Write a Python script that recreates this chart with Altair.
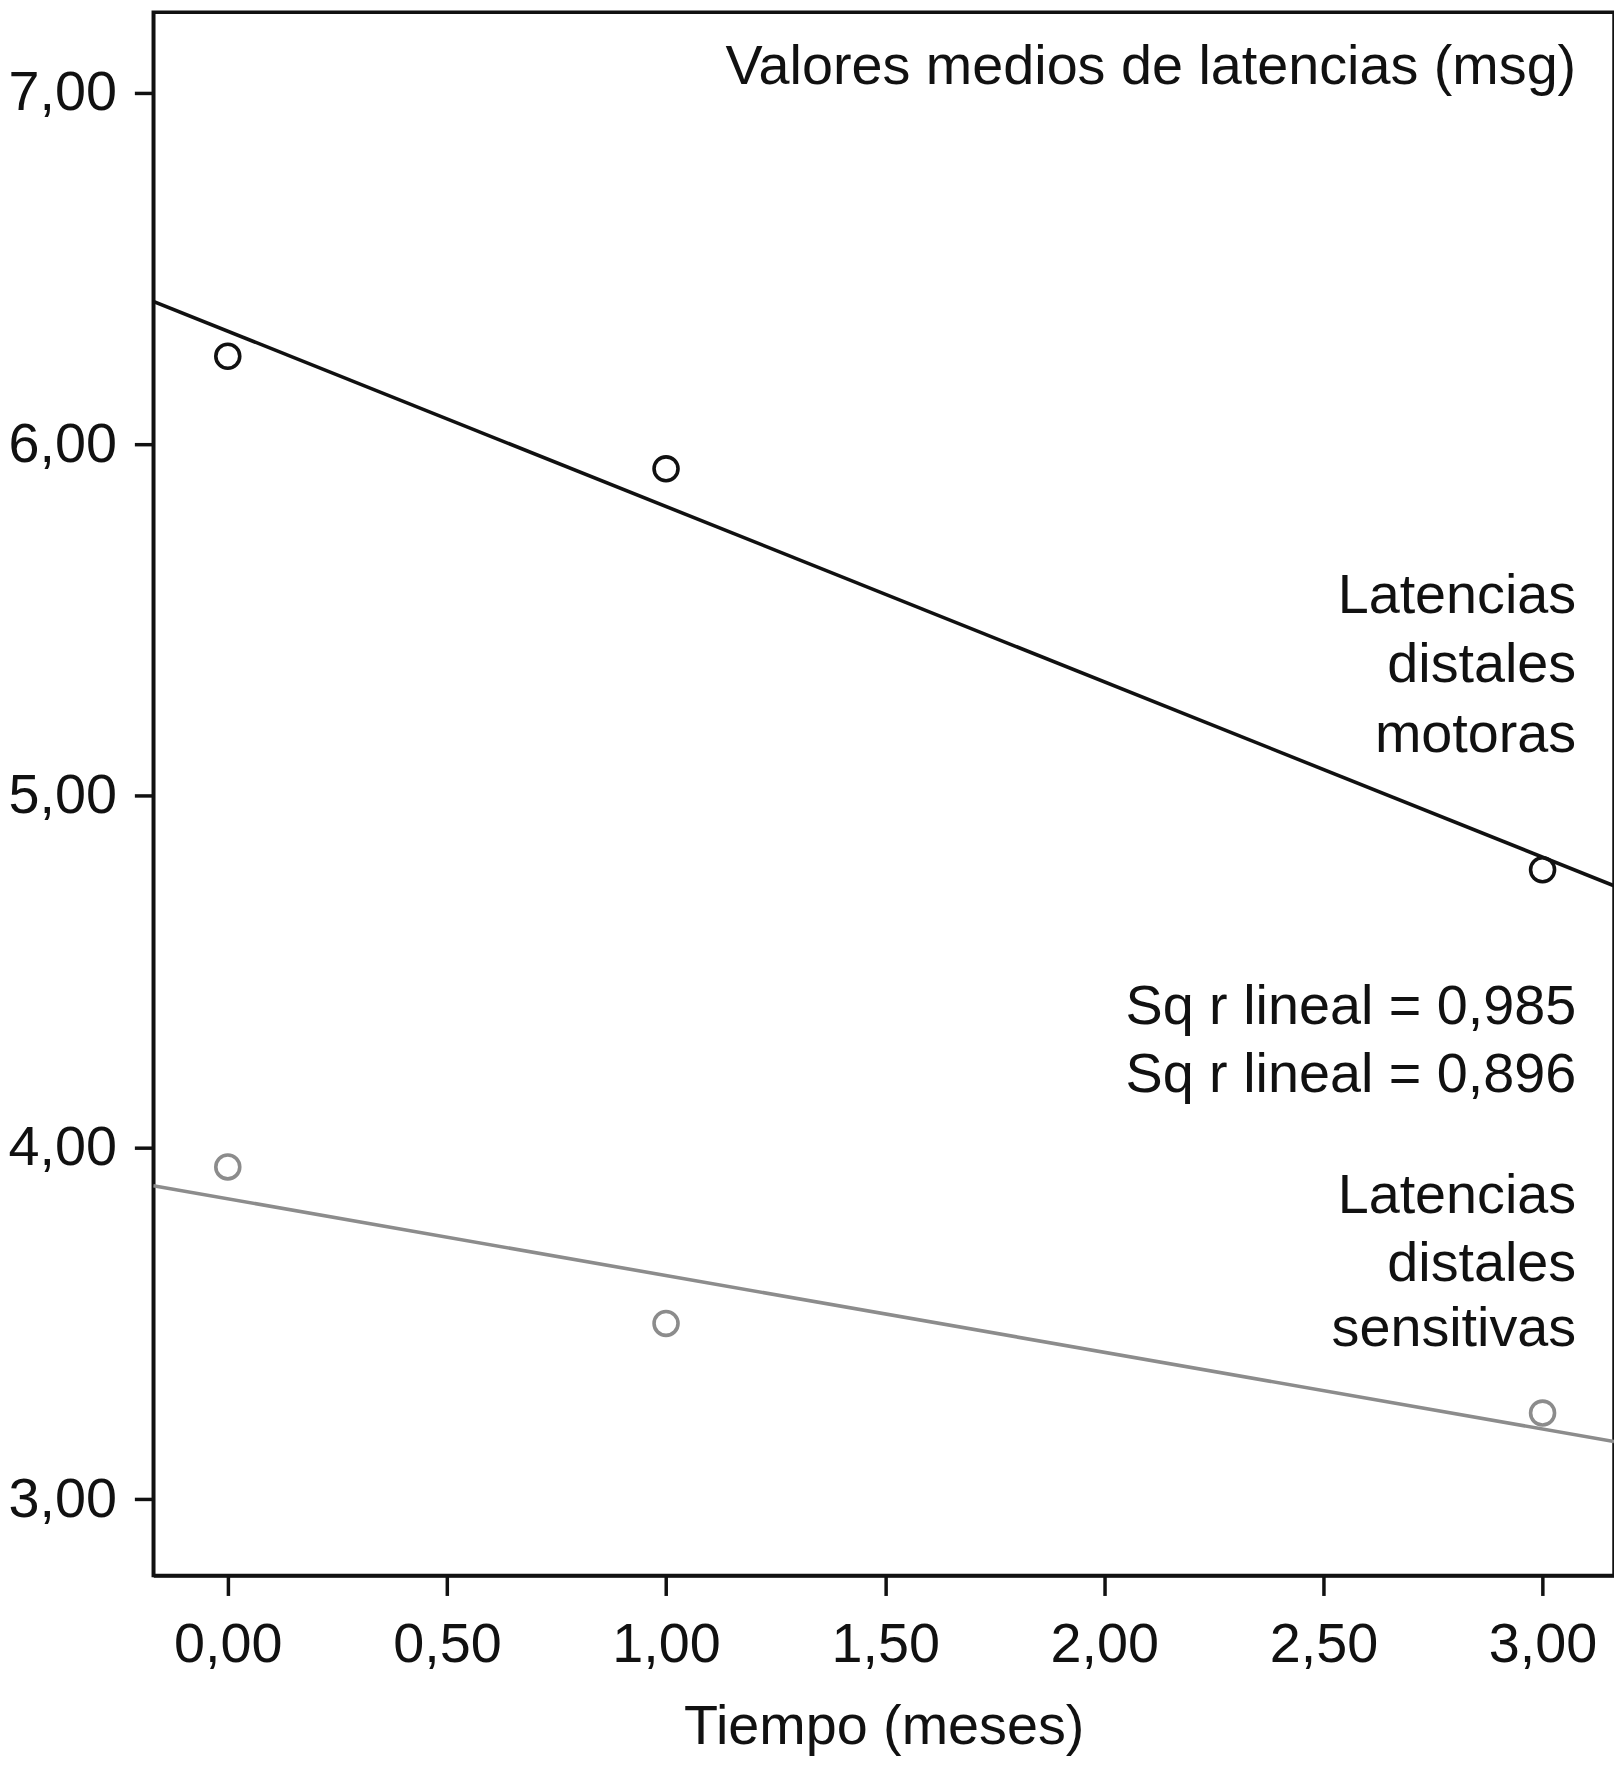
import altair as alt
import pandas as pd

# ---- data ----
tiempo = [0.0, 1.0, 3.0]
motoras = [6.25, 5.93, 4.79]
sensitivas = [3.945, 3.50, 3.245]
series = ["motoras", "sensitivas"]
x_ticks = [0.0, 0.5, 1.0, 1.5, 2.0, 2.5, 3.0]
y_ticks = [3.0, 4.0, 5.0, 6.0, 7.0]
x_domain = [-0.17, 3.163]
y_domain = [2.783, 7.228]

ann_text = [
    "Valores medios de latencias (msg)",
    "Latencias", "distales", "motoras",
    "Sq r lineal = 0,985", "Sq r lineal = 0,896",
    "Latencias", "distales", "sensitivas",
]

rows = []
for t, m, s in zip(tiempo, motoras, sensitivas):
    rows.append({"tiempo": t, "valor": m, "serie": series[0]})
    rows.append({"tiempo": t, "valor": s, "serie": series[1]})
df = pd.DataFrame(rows)

# annotation layout (pixel positions inside the plot area)
ann_y = [72, 604, 673, 743, 1017, 1085, 1207, 1275, 1340]
ann_df = pd.DataFrame({"txt": ann_text, "py": ann_y})

W, H = 1468, 1571
FONT = "Liberation Sans"
BLACK = "#111111"
GREY = "#8c8c8c"

color = alt.Color("serie:N", scale=alt.Scale(domain=series, range=[BLACK, GREY]), legend=None)

x_enc = alt.X(
    "tiempo:Q",
    scale=alt.Scale(domain=x_domain, nice=False, zero=False),
    axis=alt.Axis(
        values=x_ticks,
        labelExpr="replace(format(datum.value, '.2f'), '.', ',')",
        title="Tiempo (meses)",
        grid=False,
    ),
)
y_enc = alt.Y(
    "valor:Q",
    scale=alt.Scale(domain=y_domain, nice=False, zero=False),
    axis=alt.Axis(
        values=y_ticks,
        labelExpr="replace(format(datum.value, '.2f'), '.', ',')",
        title=None,
        grid=False,
    ),
)

base = alt.Chart(df)

points = base.mark_point(filled=False, size=580, strokeWidth=3.6, opacity=1).encode(
    x=x_enc, y=y_enc, color=color
)

lines = base.transform_regression(
    "tiempo", "valor", groupby=["serie"], extent=x_domain
).mark_line(strokeWidth=3.6, clip=True).encode(
    x=alt.X("tiempo:Q"), y=alt.Y("valor:Q"), color=color
)

ann = alt.Chart(ann_df).mark_text(
    align="right", baseline="alphabetic", font=FONT, fontSize=56, color=BLACK
).encode(
    x=alt.value(W - 38),
    y=alt.Y("py:Q", scale=None),
    text="txt:N",
)

chart = alt.layer(lines, points, ann).properties(
    width=W, height=H, padding=0, background="white"
).configure_view(
    stroke=BLACK, strokeWidth=3.5
).configure_axis(
    domainColor=BLACK, domainWidth=3.5,
    tickColor=BLACK, tickWidth=3.5,
    labelFont=FONT, labelFontSize=56, labelColor=BLACK,
    titleFont=FONT, titleFontSize=56, titleColor=BLACK, titleFontWeight="normal",
).configure_axisX(
    tickSize=20, labelPadding=22, titlePadding=28,
).configure_axisY(
    tickSize=19, labelPadding=18,
)

chart.save("out.html", embed_options={"renderer": "svg", "actions": False})
